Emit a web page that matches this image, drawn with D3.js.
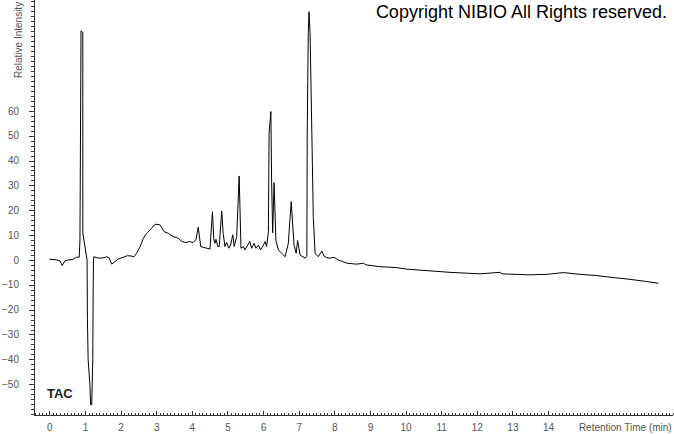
<!DOCTYPE html>
<html>
<head>
<meta charset="utf-8">
<script src="https://cdn.jsdelivr.net/npm/d3@7"></script>
<style>
  body { margin: 0; background: #fff; }
  svg { display: block; font-family: "Liberation Sans", Arial, sans-serif; }
  .axis path, .axis line { stroke: #333; shape-rendering: crispEdges; }
  .axis text { fill: #555; font-size: 10px; }
</style>
</head>
<body>
<div id="chart"></div>
<script>
// retention time (min) and relative intensity
const times = [0.00, 0.21, 0.30, 0.36, 0.44, 0.67, 0.77, 0.84, 0.86, 0.89,
  0.94, 0.94, 1.06, 1.07, 1.09, 1.14, 1.16, 1.19, 1.22, 1.23,
  1.24, 1.25, 1.38, 1.51, 1.61, 1.68, 1.75, 1.84, 1.94, 2.08,
  2.19, 2.29, 2.38, 2.45, 2.55, 2.64, 2.73, 2.83, 2.97, 3.11,
  3.22, 3.34, 3.48, 3.62, 3.72, 3.84, 3.93, 4.04, 4.12, 4.18,
  4.25, 4.37, 4.51, 4.58, 4.62, 4.65, 4.68, 4.73, 4.77, 4.84,
  4.88, 4.93, 4.98, 5.04, 5.09, 5.15, 5.19, 5.26, 5.33, 5.38,
  5.45, 5.49, 5.57, 5.63, 5.68, 5.75, 5.80, 5.87, 5.93, 5.99,
  6.06, 6.10, 6.15, 6.17, 6.22, 6.24, 6.27, 6.31, 6.36, 6.43,
  6.52, 6.62, 6.71, 6.79, 6.87, 6.93, 6.97, 7.04, 7.18, 7.23,
  7.24, 7.27, 7.29, 7.32, 7.37, 7.41, 7.46, 7.55, 7.65, 7.71,
  7.79, 7.88, 7.99, 8.11, 8.35, 8.63, 8.82, 8.89, 9.28, 9.75,
  10.03, 10.69, 11.25, 12.09, 12.65, 12.71, 13.49, 13.96, 14.43, 14.90,
  15.37, 15.83, 16.30, 16.77, 17.10];
const intensity = [0.3, 0.0, -0.4, -2.3, -0.3, 0.3, 1.1, 1.1, 8.0, 92.2,
  91.4, 10.9, 0.0, -24.1, -40.2, -50.3, -58.3, -58.3, -40.2, -13.3,
  0.0, 1.3, 0.7, 0.8, 1.3, 0.8, -1.7, -0.7, 0.4, 1.1,
  1.7, 1.6, 1.3, 2.7, 5.4, 8.7, 10.7, 12.1, 14.4, 14.1,
  11.4, 10.7, 9.4, 8.7, 7.4, 7.0, 7.4, 7.0, 8.3, 13.2,
  5.4, 4.9, 4.4, 19.4, 8.0, 6.7, 8.3, 5.4, 5.4, 19.7,
  10.7, 5.4, 7.0, 4.7, 6.0, 10.1, 5.4, 9.4, 33.8, 4.7,
  5.4, 4.0, 6.0, 7.4, 4.7, 6.7, 4.7, 6.0, 4.0, 5.4,
  7.4, 5.4, 11.4, 51.1, 59.7, 32.2, 10.9, 31.1, 8.0, 4.0,
  2.7, 1.3, 6.7, 23.5, 6.0, 2.7, 7.8, 2.0, 0.7, 1.3,
  51.1, 91.4, 99.9, 91.4, 51.1, 17.4, 2.7, 1.3, 3.6, 1.6,
  0.9, 0.7, 1.1, 0.0, -1.3, -1.7, -1.3, -2.0, -2.7, -3.1,
  -3.7, -4.4, -5.0, -5.6, -5.0, -5.6, -6.0, -5.8, -5.1, -5.8,
  -6.3, -7.1, -7.8, -8.7, -9.4];

const xLabels = d3.range(0, 15);           // 0 .. 14
const yLabels = d3.range(-50, 61, 10);     // -50 .. 60
const yMinor = d3.range(-62, 105, 2);
const xMinor = d3.range(-4, 176, 1).map(d => d / 10);

const width = 674, height = 434;
const x0 = 34, x1 = 672.7, yTop = 0, yBottom = 415;

const svg = d3.select("#chart").append("svg")
  .attr("width", width)
  .attr("height", height);

const x = d3.scaleLinear().domain([-0.43, 17.5]).range([x0, x1]);
const y = d3.scaleLinear().domain([-62.4, 104.6]).range([yBottom, yTop]);

// y axis: minor ticks, major ticks, labels
svg.append("g").attr("class", "axis").attr("transform", `translate(${x0},0)`)
  .call(d3.axisLeft(y).tickValues(yMinor).tickSize(3).tickFormat(""))
  .call(g => g.select(".domain").remove());
svg.append("g").attr("class", "axis").attr("transform", `translate(${x0},0)`)
  .call(d3.axisLeft(y).tickValues(yLabels).tickSize(5).tickFormat(""))
  .call(g => g.select(".domain").remove());
svg.append("g").attr("class", "axis").attr("transform", `translate(${x0},0)`)
  .call(d3.axisLeft(y).tickValues(yLabels).tickSize(0).tickPadding(15))
  .call(g => g.select(".domain").remove());

// x axis: ticks point up into the plot
svg.append("g").attr("class", "axis").attr("transform", `translate(0,${yBottom})`)
  .call(d3.axisBottom(x).tickValues(xMinor).tickSize(-2).tickFormat(""))
  .call(g => g.select(".domain").remove());
svg.append("g").attr("class", "axis").attr("transform", `translate(0,${yBottom})`)
  .call(d3.axisBottom(x).tickValues(xLabels).tickSize(-4).tickFormat(""))
  .call(g => g.select(".domain").remove());
svg.append("g").attr("class", "axis").attr("transform", `translate(0,${yBottom})`)
  .call(d3.axisBottom(x).tickValues(xLabels).tickSize(0).tickPadding(9))
  .call(g => g.select(".domain").remove());

// axis lines
svg.append("line").attr("x1", x0).attr("x2", x0).attr("y1", yTop).attr("y2", yBottom)
  .attr("stroke", "#333").attr("shape-rendering", "crispEdges");
svg.append("line").attr("x1", x0).attr("x2", x1).attr("y1", yBottom).attr("y2", yBottom)
  .attr("stroke", "#333").attr("shape-rendering", "crispEdges");

// trace
const line = d3.line()
  .x((d, i) => x(times[i]))
  .y(d => y(d));

svg.append("path")
  .datum(intensity)
  .attr("fill", "none")
  .attr("stroke", "#000")
  .attr("stroke-width", 1)
  .attr("stroke-linejoin", "round")
  .attr("d", line);

// texts
svg.append("text")
  .attr("x", x1 - 1).attr("y", 431)
  .attr("text-anchor", "end")
  .attr("fill", "#555").attr("font-size", 10)
  .text("Retention Time (min)");

svg.append("text")
  .attr("transform", "translate(22,78) rotate(-90)")
  .attr("fill", "#555").attr("font-size", 10)
  .text("Relative Intensity");

svg.append("text")
  .attr("x", 47).attr("y", 398)
  .attr("font-weight", "bold").attr("font-size", 13)
  .attr("fill", "#222")
  .text("TAC");

svg.append("text")
  .attr("x", 667).attr("y", 18)
  .attr("text-anchor", "end")
  .attr("font-size", 18).attr("fill", "#000")
  .text("Copyright NIBIO All Rights reserved.");
</script>
</body>
</html>
